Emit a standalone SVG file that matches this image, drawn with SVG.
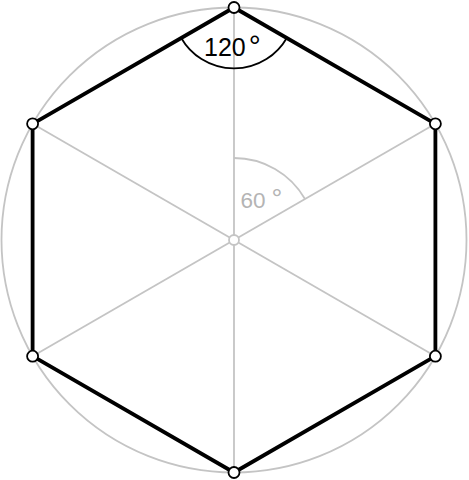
<svg xmlns="http://www.w3.org/2000/svg" width="469" height="480" viewBox="0 0 469 480">
<style>
.g{stroke:#c4c4c4;stroke-width:1.8;fill:none}
.h{stroke:#000;stroke-width:3.8;fill:none;stroke-linejoin:round}
.v{fill:#fff;stroke:#000;stroke-width:1.8}
.t{font-family:"Liberation Sans",Arial,sans-serif}
</style>
<rect width="469" height="480" fill="#fff"/>
<g id="circle"><circle class="g" cx="234" cy="240" r="232.5"/></g>
<g id="connectors">
<line class="g" x1="234" y1="7.5" x2="234" y2="472.5"/>
<line class="g" x1="32.6" y1="123.8" x2="435.4" y2="356.2"/>
<line class="g" x1="435.4" y1="123.8" x2="32.6" y2="356.2"/>
<path class="g" d="M234 158 A82 82 0 0 1 305 199"/>
<polygon class="h" points="234,7.5 435.4,123.8 435.4,356.2 234,472.5 32.6,356.2 32.6,123.8"/>
<path d="M181.2 38 A61 61 0 0 0 286.8 38" fill="none" stroke="#000" stroke-width="1.8"/>
</g>
<g id="labels">
<text class="t" x="204" y="56" font-size="25">120<tspan dx="3" font-size="30">°</tspan></text>
<text class="t" x="240.5" y="208" font-size="22.5" fill="#b4b4b4">60<tspan dx="6" font-size="27">°</tspan></text>
</g>
<g id="center"><circle cx="234" cy="240" r="5" fill="#fff" stroke="#c4c4c4" stroke-width="1.8"/></g>
<g id="v1"><circle class="v" cx="234" cy="7.5" r="5.5"/></g>
<g id="v2"><circle class="v" cx="435.4" cy="123.8" r="5.5"/></g>
<g id="v3"><circle class="v" cx="435.4" cy="356.2" r="5.5"/></g>
<g id="v4"><circle class="v" cx="234" cy="472.5" r="5.5"/></g>
<g id="v5"><circle class="v" cx="32.6" cy="356.2" r="5.5"/></g>
<g id="v6"><circle class="v" cx="32.6" cy="123.8" r="5.5"/></g>
</svg>
